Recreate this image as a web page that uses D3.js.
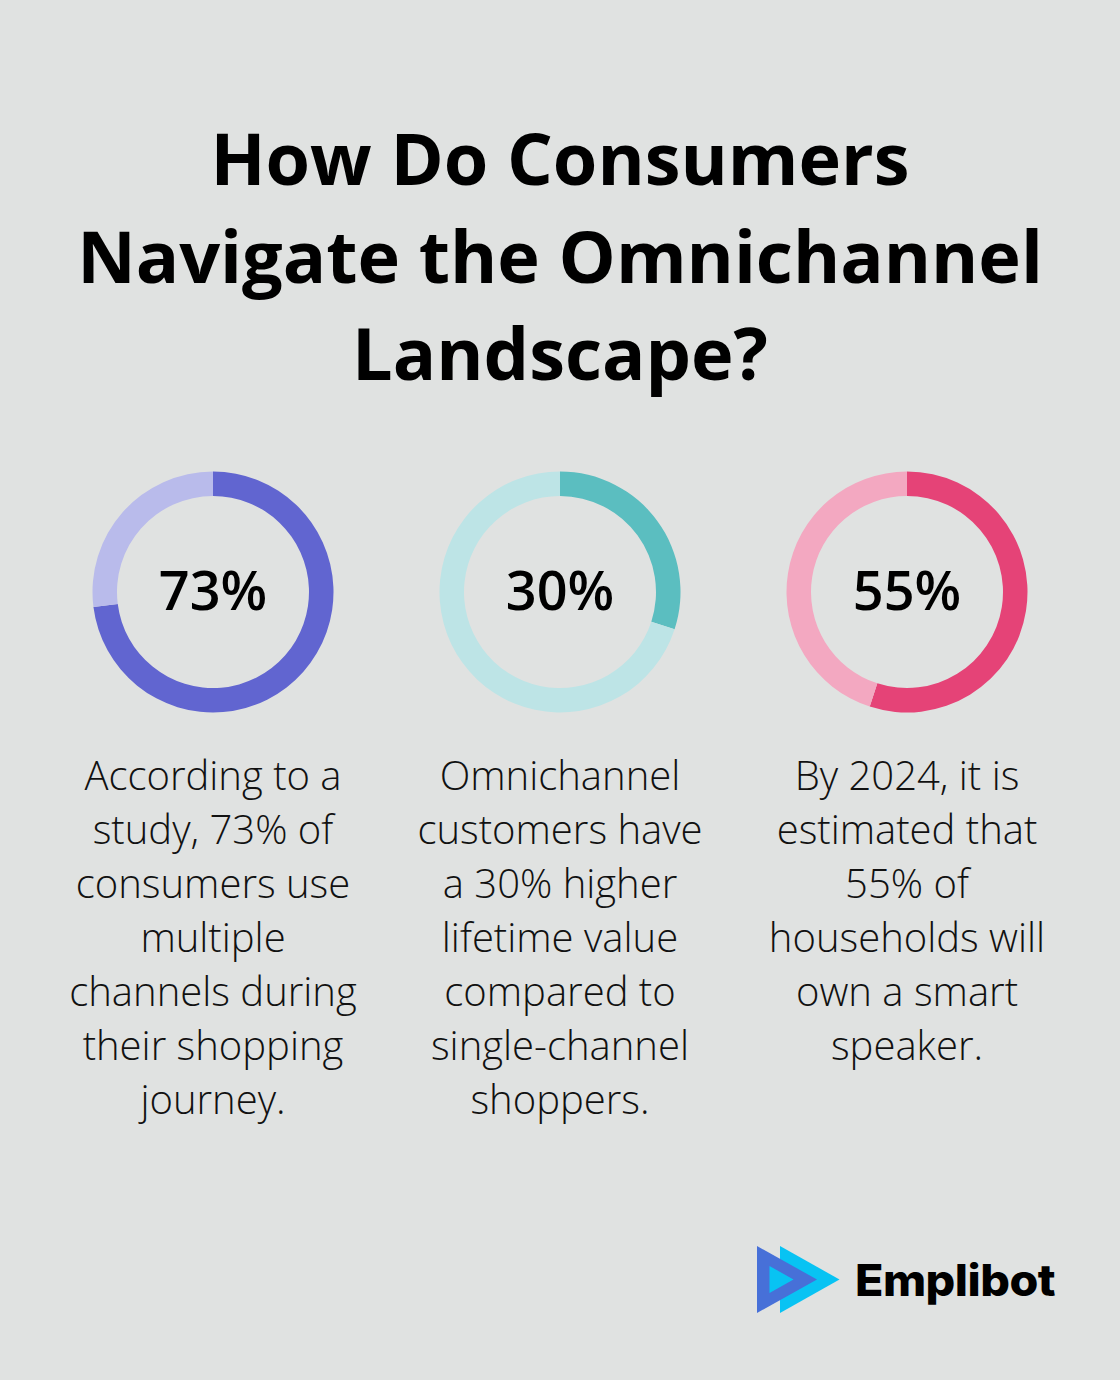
<!DOCTYPE html>
<html><head><meta charset="utf-8">
<script src="https://cdn.jsdelivr.net/npm/d3@7"></script>
<style>html,body{margin:0;padding:0;background:#e0e2e1;}svg{display:block;}</style>
</head><body>
<script>
const titleLines = ["How Do Consumers", "Navigate the Omnichannel", "Landscape?"];
const values = [73, 30, 55];
const labels = ["73%", "30%", "55%"];
const mainColors = ["#6165d0", "#5bbec0", "#e54377"];
const lightColors = ["#b9bbeb", "#bde4e6", "#f3a8c1"];
const descriptions = [
  ["According to a", "study, 73% of", "consumers use", "multiple", "channels during", "their shopping", "journey."],
  ["Omnichannel", "customers have", "a 30% higher", "lifetime value", "compared to", "single-channel", "shoppers."],
  ["By 2024, it is", "estimated that", "55% of", "households will", "own a smart", "speaker."]
];
const brand = "Emplibot";

const W = 1120, H = 1380;
const svg = d3.select("body").append("svg").attr("width", W).attr("height", H);
svg.append("rect").attr("width", W).attr("height", H).attr("fill", "#e0e2e1");

// Title
svg.append("g").selectAll("text").data(titleLines).join("text")
  .attr("x", W / 2).attr("y", (d, i) => 185 + i * 97.5)
  .attr("text-anchor", "middle")
  .attr("font-family", "'Open Sans', sans-serif").attr("font-weight", 700)
  .attr("font-size", 72).attr("fill", "#000").text(d => d);

// Columns
const x = d3.scalePoint().domain(d3.range(values.length)).range([213, 907]);
const cy = 592;
const arc = d3.arc().innerRadius(96).outerRadius(120.5);
const pie = d3.pie().sort(null).value(d => d);

values.forEach((v, i) => {
  const g = svg.append("g").attr("transform", `translate(${x(i)},${cy})`);
  const slices = pie([v, 100 - v]);
  g.selectAll("path").data(slices).join("path")
    .attr("d", arc)
    .attr("fill", (d, j) => j === 0 ? mainColors[i] : lightColors[i]);
  g.append("text").attr("y", 18).attr("text-anchor", "middle")
    .attr("font-family", "'Open Sans', sans-serif").attr("font-weight", 600)
    .attr("font-size", 54).attr("fill", "#000").text(labels[i]);
  svg.append("g").selectAll("text").data(descriptions[i]).join("text")
    .attr("x", x(i)).attr("y", (d, k) => 790 + k * 54)
    .attr("text-anchor", "middle")
    .attr("font-family", "'Open Sans', sans-serif").attr("font-weight", 300)
    .attr("font-size", 40).attr("fill", "#111").text(d => d);
});

// Logo
const logo = svg.append("g");
logo.append("path").attr("d", "M780,1246 L839.5,1279.5 L780,1313 Z").attr("fill", "#08c3f3");
logo.append("path").attr("d", "M757,1246 L817,1279.5 L757,1313 Z").attr("fill", "#4770d8");
logo.append("path").attr("d", "M769.5,1266 L793.5,1279.5 L769.5,1293 Z").attr("fill", "#08c3f3");
logo.append("text").attr("x", 855).attr("y", 1296)
  .attr("font-family", "Inter, sans-serif").attr("font-weight", 800)
  .attr("font-size", 44).attr("letter-spacing", -0.5)
  .attr("textLength", 200).attr("lengthAdjust", "spacingAndGlyphs")
  .attr("fill", "#000").text(brand);
</script>
</body></html>
